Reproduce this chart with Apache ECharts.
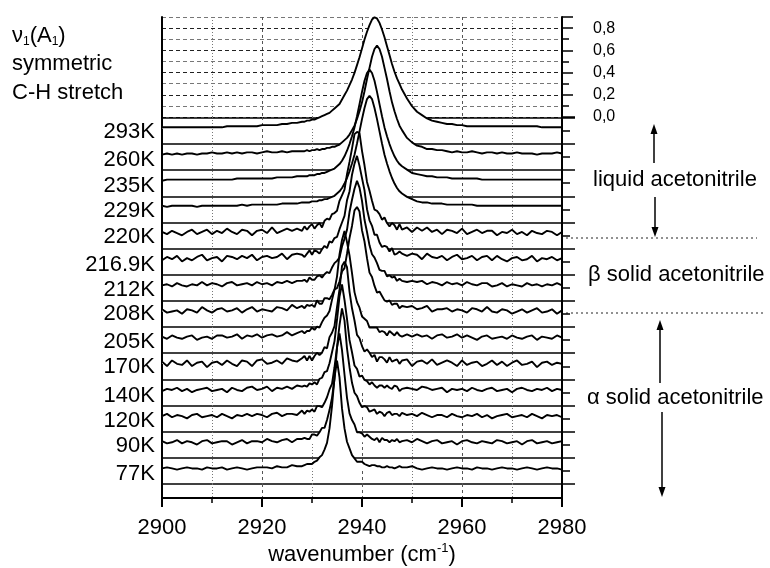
<!DOCTYPE html>
<html><head><meta charset="utf-8">
<script src="https://cdn.jsdelivr.net/npm/echarts@6/dist/echarts.min.js"></script>
<style>html,body{margin:0;padding:0;background:#fff}#c{width:770px;height:568px}</style>
</head><body><div id="c"></div>
<script>
// ---------- data ----------
const wavenumber = [2900,2901,2902,2903,2904,2905,2906,2907,2908,2909,2910,2911,2912,2913,2914,2915,2916,2917,2918,2919,2920,2921,2922,2923,2924,2925,2926,2927,2928,
2928.5,2929,2929.5,2930,2930.5,2931,2931.5,2932,2932.5,2933,2933.5,2934,2934.5,2935,2935.5,2936,2936.5,2937,2937.5,2938,2938.5,2939,2939.5,2940,2940.5,2941,2941.5,2942,2942.5,2943,2943.5,2944,2944.5,2945,2945.5,2946,2946.5,2947,2947.5,2948,
2949,2950,2951,2952,2953,2954,2955,2956,2957,2958,2959,2960,2961,2962,2963,2964,2965,2966,2967,2968,2969,2970,2971,2972,2973,2974,2975,2976,2977,2978,2979,2980];

const temperatures = ['293K','260K','235K','229K','220K','216.9K','212K','208K','205K','170K','140K','120K','90K','77K'];

const a293 = [0.01,0.01,0.01,0.01,0.01,0.01,0.01,0.01,0.01,0.01,0.01,0.01,0.01,0.02,0.02,0.02,0.02,0.02,0.02,0.02,0.03,0.03,0.03,0.03,0.04,0.04,0.05,0.05,0.06,
0.06,0.07,0.07,0.08,0.08,0.09,0.10,0.11,0.12,0.13,0.14,0.16,0.18,0.20,0.22,0.26,0.30,0.34,0.39,0.44,0.50,0.57,0.64,0.72,0.80,0.87,0.93,0.98,1.00,0.99,0.95,0.89,0.82,0.74,0.66,0.58,0.51,0.45,0.40,0.35,
0.27,0.20,0.15,0.12,0.09,0.07,0.06,0.05,0.04,0.04,0.03,0.03,0.02,0.02,0.02,0.02,0.02,0.02,0.02,0.02,0.02,0.02,0.02,0.02,0.02,0.02,0.02,0.01,0.01,0.01,0.01,0.01];

const a260 = [0.00,0.01,0.00,0.01,0.00,0.01,0.01,0.00,0.01,0.01,0.02,0.01,0.01,0.02,0.01,0.02,0.01,0.02,0.02,0.01,0.02,0.03,0.02,0.02,0.03,0.02,0.03,0.03,0.03,
0.03,0.04,0.03,0.04,0.04,0.05,0.04,0.05,0.05,0.06,0.06,0.07,0.07,0.08,0.09,0.11,0.13,0.15,0.18,0.22,0.26,0.32,0.39,0.47,0.57,0.68,0.78,0.88,0.95,0.98,0.95,0.88,0.78,0.68,0.57,0.47,0.39,0.32,0.26,0.22,
0.15,0.11,0.08,0.07,0.05,0.05,0.04,0.04,0.03,0.02,0.03,0.02,0.02,0.03,0.02,0.01,0.02,0.02,0.01,0.02,0.01,0.01,0.02,0.01,0.01,0.01,0.00,0.01,0.01,0.01,0.02,0.01];

const a235 = [0.00,0.01,0.01,0.01,0.01,0.01,0.01,0.01,0.01,0.01,0.01,0.01,0.01,0.01,0.01,0.02,0.02,0.02,0.02,0.02,0.02,0.02,0.02,0.03,0.03,0.03,0.03,0.04,0.04,
0.04,0.04,0.05,0.05,0.05,0.06,0.06,0.07,0.07,0.08,0.09,0.10,0.11,0.13,0.15,0.18,0.22,0.27,0.33,0.40,0.48,0.58,0.69,0.80,0.90,0.97,1.00,0.97,0.90,0.80,0.69,0.58,0.48,0.40,0.33,0.27,0.22,0.18,0.15,0.13,
0.10,0.07,0.06,0.05,0.04,0.04,0.03,0.03,0.03,0.02,0.02,0.02,0.02,0.02,0.02,0.01,0.01,0.01,0.01,0.01,0.01,0.01,0.01,0.01,0.01,0.01,0.01,0.01,0.01,0.01,0.01,0.01];

const a229 = [0.01,0.00,0.01,0.01,0.01,0.01,0.01,0.00,0.01,0.01,0.01,0.01,0.01,0.01,0.01,0.01,0.02,0.01,0.02,0.02,0.02,0.02,0.02,0.02,0.03,0.03,0.03,0.03,0.04,
0.04,0.04,0.04,0.05,0.05,0.05,0.06,0.06,0.07,0.07,0.08,0.09,0.10,0.12,0.14,0.17,0.21,0.26,0.32,0.39,0.47,0.57,0.68,0.79,0.89,0.97,1.00,0.97,0.89,0.79,0.68,0.57,0.47,0.39,0.32,0.26,0.21,0.17,0.14,0.12,
0.09,0.07,0.05,0.04,0.04,0.03,0.03,0.03,0.02,0.02,0.02,0.02,0.02,0.02,0.01,0.01,0.01,0.01,0.01,0.01,0.01,0.01,0.01,0.01,0.01,0.01,0.01,0.01,0.01,0.01,0.01,0.01];

const a220 = [0.01,-0.01,0.02,0.00,-0.02,0.01,0.03,-0.01,0.01,0.03,-0.01,0.02,0.00,0.04,0.01,-0.01,0.03,0.02,-0.02,0.02,0.03,0.00,0.05,0.00,0.02,0.04,0.02,0.04,0.02,
0.06,0.03,0.06,0.08,0.04,0.07,0.09,0.05,0.11,0.13,0.12,0.17,0.18,0.20,0.29,0.34,0.39,0.53,0.64,0.76,0.89,0.91,0.90,0.74,0.61,0.46,0.38,0.29,0.21,0.20,0.17,0.12,0.14,0.09,0.06,0.09,0.07,0.03,0.08,0.03,
0.05,0.01,0.05,0.02,0.05,0.01,0.03,-0.01,0.03,0.02,0.00,0.04,-0.01,0.01,0.03,0.00,0.02,0.02,-0.02,0.01,0.00,0.03,-0.01,0.01,-0.02,0.02,0.00,-0.01,0.02,0.01,-0.02,0.01];

const a2169 = [-0.01,0.02,0.00,0.03,-0.02,0.01,-0.01,0.02,0.04,-0.01,0.01,0.02,-0.02,0.03,0.02,0.00,0.03,0.01,0.04,-0.01,0.02,0.03,0.01,0.02,0.05,0.00,0.04,0.05,0.04,
0.02,0.05,0.08,0.04,0.08,0.07,0.05,0.09,0.12,0.10,0.16,0.15,0.19,0.20,0.27,0.33,0.39,0.53,0.61,0.76,0.86,0.93,0.84,0.73,0.62,0.45,0.35,0.30,0.22,0.22,0.15,0.11,0.12,0.11,0.07,0.10,0.04,0.05,0.07,0.05,
0.03,0.05,0.04,0.00,0.05,0.02,0.01,0.03,-0.01,0.02,0.04,0.00,0.01,0.03,-0.01,0.02,0.03,-0.01,0.03,0.00,-0.02,0.01,0.02,-0.01,0.00,0.03,-0.02,0.01,0.00,0.02,-0.01,0.01];

const a212 = [0.00,0.01,-0.01,0.02,0.00,-0.01,0.01,0.00,0.03,0.00,0.02,0.01,-0.01,0.02,0.03,0.00,0.01,0.02,0.00,0.03,0.01,0.02,0.00,0.03,0.02,0.04,0.02,0.04,0.04,
0.05,0.03,0.07,0.05,0.05,0.08,0.09,0.07,0.10,0.12,0.11,0.16,0.20,0.22,0.25,0.35,0.42,0.50,0.66,0.77,0.87,0.94,0.88,0.76,0.59,0.48,0.36,0.28,0.25,0.20,0.14,0.13,0.13,0.08,0.09,0.07,0.08,0.04,0.06,0.04,
0.03,0.04,0.03,0.04,0.01,0.03,0.02,0.00,0.03,0.01,0.02,0.00,0.03,0.01,0.00,0.02,0.02,-0.01,0.00,0.02,-0.01,0.01,0.00,-0.01,0.02,0.00,0.01,-0.01,0.01,0.00,0.02,0.00];

const a208 = [0.02,-0.01,0.00,0.01,-0.02,0.02,0.01,-0.01,0.04,0.01,-0.01,0.02,0.03,0.00,0.01,0.03,-0.01,0.02,0.04,0.00,0.02,0.01,0.00,0.04,0.03,0.01,0.06,0.03,0.05,
0.03,0.06,0.05,0.06,0.04,0.10,0.07,0.07,0.12,0.12,0.11,0.15,0.20,0.21,0.27,0.36,0.39,0.52,0.66,0.77,0.91,0.94,0.90,0.73,0.63,0.48,0.35,0.31,0.23,0.17,0.18,0.14,0.10,0.09,0.10,0.06,0.07,0.07,0.03,0.05,
0.04,0.05,0.02,0.03,0.05,0.00,0.02,0.02,0.03,0.00,0.02,0.01,-0.01,0.03,0.02,0.00,0.04,0.00,-0.01,0.02,0.01,-0.02,0.00,0.02,-0.01,0.01,0.03,-0.01,0.00,0.02,-0.02,0.01];

const a205 = [0.01,-0.01,0.02,0.00,-0.01,0.01,0.02,-0.02,0.00,0.01,-0.01,0.02,0.02,0.00,0.01,0.03,-0.01,0.02,0.01,0.03,0.00,0.02,0.03,0.01,0.02,0.05,0.02,0.04,0.06,
0.04,0.06,0.06,0.09,0.07,0.10,0.09,0.14,0.18,0.20,0.24,0.34,0.43,0.55,0.75,0.88,0.96,0.86,0.74,0.58,0.41,0.32,0.27,0.19,0.17,0.15,0.09,0.09,0.09,0.09,0.05,0.06,0.05,0.02,0.06,0.04,0.02,0.05,0.02,0.01,
0.03,0.01,0.03,0.01,0.02,-0.01,0.02,0.03,0.00,0.01,0.03,0.00,0.02,0.00,-0.02,0.01,0.02,-0.01,0.00,0.01,-0.01,0.02,0.00,-0.01,0.01,0.02,-0.02,0.01,0.00,-0.01,0.02,0.00];

const a170 = [0.02,-0.02,0.03,0.00,-0.01,0.03,-0.02,0.01,0.02,-0.03,0.01,0.02,-0.01,0.03,0.00,-0.02,0.03,0.02,-0.02,0.03,0.04,0.00,0.01,0.03,0.00,0.05,0.03,0.02,0.05,
0.07,0.03,0.07,0.03,0.07,0.10,0.08,0.10,0.15,0.14,0.24,0.28,0.34,0.51,0.67,0.88,0.92,0.87,0.65,0.50,0.39,0.26,0.23,0.16,0.11,0.13,0.10,0.06,0.08,0.02,0.06,0.06,0.04,0.01,0.06,0.02,0.03,0.04,0.00,0.03,
0.04,-0.02,0.02,0.03,0.00,0.04,-0.01,0.01,0.03,0.01,-0.02,0.03,-0.01,0.01,0.02,-0.02,0.00,0.03,-0.01,0.02,-0.02,0.01,0.03,-0.01,0.00,0.02,-0.03,0.01,0.02,-0.01,0.01,0.00];

const a140 = [-0.01,0.01,0.00,0.02,-0.01,0.01,-0.02,0.00,0.01,0.02,-0.01,0.00,0.01,-0.02,0.02,0.00,-0.01,0.02,0.03,0.00,0.01,0.03,-0.01,0.02,0.01,0.03,0.01,0.04,0.03,
0.04,0.03,0.06,0.05,0.07,0.05,0.10,0.11,0.16,0.17,0.24,0.34,0.44,0.63,0.84,0.95,0.81,0.64,0.45,0.34,0.22,0.19,0.12,0.13,0.09,0.08,0.05,0.07,0.04,0.02,0.04,0.04,0.02,0.04,0.02,0.01,0.04,0.03,-0.01,0.01,
0.02,0.01,0.00,0.03,0.02,0.00,0.01,0.02,-0.02,0.01,0.00,0.01,-0.01,0.02,0.00,-0.01,0.01,0.02,-0.01,0.00,0.01,-0.02,0.01,0.02,0.00,-0.01,0.01,0.00,0.02,-0.01,0.01,0.00];

const a120 = [0.00,0.02,-0.01,0.01,0.00,-0.02,0.01,0.02,-0.01,0.00,0.01,-0.01,0.02,0.00,-0.02,0.01,0.00,0.02,0.00,0.02,0.01,-0.01,0.02,0.03,0.00,0.02,0.02,0.01,0.05,
0.02,0.05,0.04,0.06,0.04,0.09,0.09,0.08,0.12,0.17,0.24,0.29,0.44,0.62,0.82,0.97,0.86,0.61,0.44,0.30,0.21,0.18,0.12,0.08,0.09,0.08,0.04,0.05,0.06,0.02,0.04,0.03,0.00,0.03,0.04,0.01,0.02,0.02,0.00,0.03,
0.01,0.02,0.00,0.03,0.01,-0.01,0.01,0.01,-0.01,0.02,0.00,-0.01,0.01,0.00,0.02,-0.01,0.01,-0.02,0.00,0.01,0.02,-0.01,0.00,0.01,-0.01,0.02,0.00,-0.02,0.01,0.00,0.01,-0.01];

const a90 = [0.01,-0.01,0.00,0.02,-0.01,0.01,0.00,-0.02,0.01,0.02,-0.01,0.00,0.01,0.01,-0.02,0.00,0.02,-0.01,0.01,0.01,0.00,0.03,0.01,0.00,0.02,0.03,0.00,0.03,0.03,
0.04,0.03,0.03,0.07,0.07,0.06,0.09,0.13,0.13,0.20,0.29,0.40,0.57,0.85,0.98,0.83,0.61,0.40,0.26,0.20,0.16,0.09,0.09,0.08,0.05,0.07,0.05,0.03,0.02,0.04,0.00,0.04,0.02,0.02,0.00,0.02,0.01,0.03,0.00,0.01,
0.02,0.00,0.03,0.01,-0.01,0.01,0.02,-0.01,0.00,0.01,-0.02,0.01,0.02,0.00,-0.01,0.01,0.00,-0.01,0.02,0.01,-0.01,0.00,0.01,-0.02,0.01,0.02,-0.01,0.00,0.01,-0.01,0.00,0.01];

const a77 = [0.00,0.01,0.00,-0.01,0.00,0.01,0.00,0.00,-0.01,0.01,0.00,0.00,0.01,-0.01,0.00,0.01,0.00,-0.01,0.00,0.01,0.01,0.01,0.00,0.02,0.01,0.01,0.03,0.02,0.02,
0.03,0.04,0.04,0.04,0.06,0.07,0.10,0.12,0.17,0.23,0.36,0.56,0.82,0.97,0.82,0.54,0.36,0.24,0.18,0.12,0.09,0.06,0.06,0.06,0.04,0.03,0.02,0.03,0.03,0.02,0.02,0.01,0.01,0.02,0.01,0.01,0.00,0.01,0.02,0.01,
0.01,0.02,0.00,-0.01,0.00,0.01,0.00,0.00,-0.01,0.00,0.01,0.00,0.00,-0.01,0.01,0.00,0.00,-0.01,0.00,0.01,0.00,0.00,-0.01,0.00,0.01,0.00,-0.01,0.00,0.01,0.00,0.00,-0.01];

const spectra = [a293,a260,a235,a229,a220,a2169,a212,a208,a205,a170,a140,a120,a90,a77];

const rightTickValues = [0, 0.2, 0.4, 0.6, 0.8];
const rightTickLabels = ['0,0','0,2','0,4','0,6','0,8'];
const xTickValues = [2900, 2920, 2940, 2960, 2980];

spectra.forEach((s, i) => {
  if (s.length !== wavenumber.length) throw new Error('length mismatch ' + temperatures[i] + ': ' + s.length);
});

// ---------- layout ----------
const FONT = '"Liberation Sans", Arial, Helvetica, sans-serif';
const STEP = 0.2354;   // vertical spacing between stacked spectra (absorbance units)
const BASE = 0.14;     // baseline of lowest spectrum above bottom panel line
const GL = 162, GW = 400;

function xAx(gi, extra) {
  return Object.assign({
    type: 'value', gridIndex: gi, min: 2900, max: 2980, interval: 20,
    axisLabel: {show: false}, axisTick: {show: false}, axisLine: {show: false},
    splitLine: {show: true, lineStyle: {color: '#555', type: [3, 3], width: 1}},
    minorTick: {show: false, splitNumber: 2},
    minorSplitLine: {show: true, lineStyle: {color: '#777', type: [1, 2], width: 1}}
  }, extra || {});
}
function lineOnly(gi, pos, min, max) {
  return {type: 'value', gridIndex: gi, position: pos, min: min, max: max,
    axisLine: {show: true, lineStyle: {color: '#000', width: 2}},
    axisTick: {show: false}, axisLabel: {show: false}, splitLine: {show: false}};
}

const series = spectra.map((arr, i) => {
  const off = (spectra.length - 1 - i) * STEP + BASE;
  return {
    type: 'line', name: temperatures[i], xAxisIndex: 1, yAxisIndex: 3,
    clip: false, silent: true, animation: false,
    symbol: 'circle', symbolSize: 0, showSymbol: true,
    itemStyle: {color: '#000'},
    lineStyle: {color: '#000', width: 1.9},
    areaStyle: {color: '#fff', opacity: 1, origin: off},
    data: wavenumber.map((x, j) => {
      const v = [x, +(arr[j] + off).toFixed(4)];
      if (j === 0) return {value: v, label: {show: true, position: 'left', distance: 7, offset: [0, 5],
        formatter: temperatures[i], fontSize: 22, fontFamily: FONT, color: '#000'}};
      return v;
    })
  };
});

const option = {
  animation: false,
  backgroundColor: '#fff',
  textStyle: {fontFamily: FONT},
  grid: [
    {left: GL, width: GW, top: 17, height: 100},
    {left: GL, width: GW, top: 117, height: 367},
    {left: GL, width: GW, top: 484, height: 14}
  ],
  xAxis: [
    xAx(0, {position: 'top'}),
    xAx(1, {position: 'bottom'}),
    xAx(2, {position: 'bottom',
      axisLine: {show: true, lineStyle: {color: '#000', width: 2}},
      axisTick: {show: true, length: 9, lineStyle: {color: '#000', width: 2}},
      minorTick: {show: true, splitNumber: 2, length: 5, lineStyle: {color: '#000', width: 1.5}},
      axisLabel: {show: true, fontSize: 22, color: '#000', margin: 19, fontFamily: FONT,
        formatter: v => xTickValues.indexOf(v) >= 0 ? String(v) : ''},
      name: 'wavenumber (cm{sup|-1})', nameLocation: 'middle', nameGap: 44,
      nameTextStyle: {fontSize: 22, color: '#000', fontFamily: FONT,
        rich: {sup: {fontSize: 13, color: '#000', fontFamily: FONT, padding: [0, 0, 12, 0]}}}
    })
  ],
  yAxis: [
    // 0: top panel grid lines + minor ticks
    {type: 'value', gridIndex: 0, position: 'right', min: 0, max: 0.9, interval: 0.1,
      axisLine: {show: true, lineStyle: {color: '#000', width: 2}},
      axisTick: {show: true, length: 7, lineStyle: {color: '#000', width: 1.5}},
      axisLabel: {show: false},
      splitLine: {show: true, lineStyle: {color: ['#222', '#777'], type: [4, 3], width: 1}}},
    // 1: top panel labelled ticks
    {type: 'value', gridIndex: 0, position: 'right', min: 0, max: 0.9, interval: 0.2,
      axisLine: {show: false}, splitLine: {show: false},
      axisTick: {show: true, length: 11, lineStyle: {color: '#000', width: 1.5}},
      axisLabel: {show: true, margin: 31, fontSize: 16, color: '#000', fontFamily: FONT,
        formatter: v => {
          const k = rightTickValues.findIndex(t => Math.abs(t - v) < 1e-6);
          return k >= 0 ? rightTickLabels[k] : '';
        }}},
    lineOnly(0, 'left', 0, 0.9),
    // 3: stacked panels
    {type: 'value', gridIndex: 1, position: 'right', min: 0, max: 3.303, interval: STEP,
      axisLine: {show: true, lineStyle: {color: '#000', width: 2}},
      axisTick: {show: true, length: 13, lineStyle: {color: '#000', width: 1.5}},
      minorTick: {show: true, splitNumber: 2, length: 8, lineStyle: {color: '#000', width: 1.5}},
      axisLabel: {show: false},
      splitLine: {show: true, showMaxLine: false, lineStyle: {color: '#000', width: 1.6, type: 'solid'}}},
    lineOnly(1, 'left', 0, 1),
    lineOnly(2, 'right', 0, 1),
    lineOnly(2, 'left', 0, 1)
  ],
  graphic: [
    {type: 'text', x: 12, y: 36, style: {text: '{g|ν}{s|1}(A{s|1})', fontSize: 22, fontFamily: FONT, fill: '#000',
      textVerticalAlign: 'middle',
      rich: {g: {fontSize: 22, fontFamily: FONT}, s: {fontSize: 12, fontFamily: FONT, padding: [12, 0, 0, 0]}}}},
    {type: 'text', x: 12, y: 64, style: {text: 'symmetric', fontSize: 22, fontFamily: FONT, fill: '#000', textVerticalAlign: 'middle'}},
    {type: 'text', x: 12, y: 93, style: {text: 'C-H stretch', fontSize: 22, fontFamily: FONT, fill: '#000', textVerticalAlign: 'middle'}},

    {type: 'text', x: 593, y: 180, style: {text: 'liquid acetonitrile', fontSize: 22, fontFamily: FONT, fill: '#000', textVerticalAlign: 'middle'}},
    {type: 'text', x: 588, y: 275, style: {text: 'β solid acetonitrile', fontSize: 22, fontFamily: FONT, fill: '#000', textVerticalAlign: 'middle'}},
    {type: 'text', x: 587, y: 398, style: {text: 'α solid acetonitrile', fontSize: 22, fontFamily: FONT, fill: '#000', textVerticalAlign: 'middle'}},

    // liquid arrows
    {type: 'line', shape: {x1: 654, y1: 163, x2: 654, y2: 132}, style: {stroke: '#000', lineWidth: 1.5}},
    {type: 'polygon', shape: {points: [[654, 124], [650.5, 134], [657.5, 134]]}, style: {fill: '#000'}},
    {type: 'line', shape: {x1: 655, y1: 197, x2: 655, y2: 229}, style: {stroke: '#000', lineWidth: 1.5}},
    {type: 'polygon', shape: {points: [[655, 237], [651.5, 227], [658.5, 227]]}, style: {fill: '#000'}},
    // alpha arrows
    {type: 'line', shape: {x1: 660, y1: 383, x2: 660, y2: 328}, style: {stroke: '#000', lineWidth: 1.5}},
    {type: 'polygon', shape: {points: [[660, 320], [656.5, 330], [663.5, 330]]}, style: {fill: '#000'}},
    {type: 'line', shape: {x1: 662, y1: 412, x2: 662, y2: 489}, style: {stroke: '#000', lineWidth: 1.5}},
    {type: 'polygon', shape: {points: [[662, 497], [658.5, 487], [665.5, 487]]}, style: {fill: '#000'}},
    // phase separators
    {type: 'line', shape: {x1: 566, y1: 238, x2: 757, y2: 238}, style: {stroke: '#222', lineWidth: 1, lineDash: [2, 3]}},
    {type: 'line', shape: {x1: 566, y1: 313, x2: 766, y2: 313}, style: {stroke: '#222', lineWidth: 1, lineDash: [2, 3]}}
  ],
  series: series
};

const chart = echarts.init(document.getElementById('c'), null, {renderer: 'canvas'});
chart.setOption(option);
</script>
</body></html>
